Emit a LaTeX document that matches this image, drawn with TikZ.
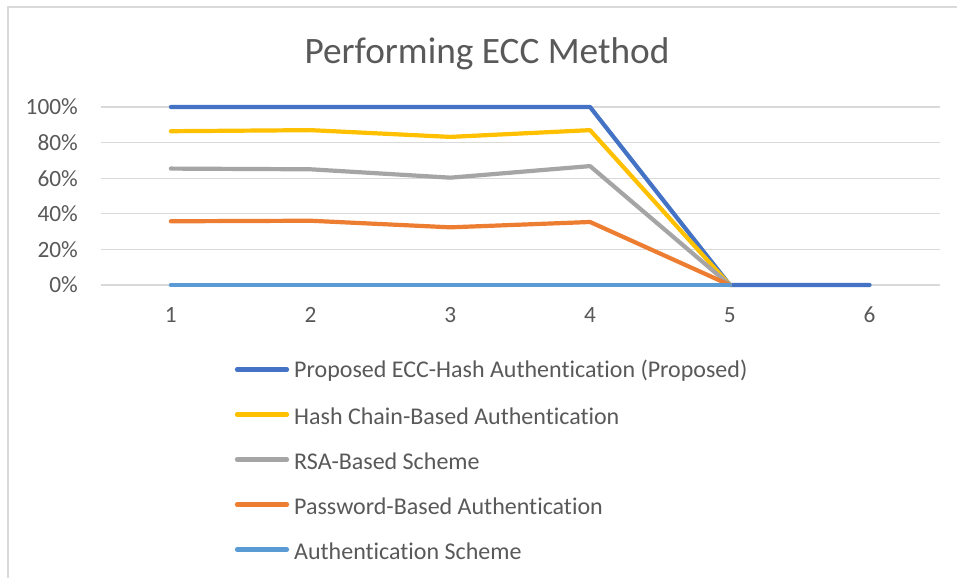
\documentclass[tikz,border=0pt]{standalone}
\usepackage{fontspec}
\setmainfont{Carlito}[Ligatures=NoCommon]
\definecolor{txt}{HTML}{595959}
\definecolor{grid}{HTML}{D9D9D9}
\definecolor{sblue}{HTML}{4472C4}
\definecolor{syellow}{HTML}{FFC000}
\definecolor{sgray}{HTML}{A5A5A5}
\definecolor{sorange}{HTML}{ED7D31}
\definecolor{slight}{HTML}{5B9BD5}
% data point: category #1, percentage #2
\newcommand\datapt[2]{({101+(#1-0.5)*139.73},{285-1.78*#2})}
\tikzset{
  series/.style={line width=4.2pt, line cap=round, line join=round},
  gridline/.style={draw=grid, line width=1.3pt},
  ticklabel/.style={text=txt, font=\fontsize{23.3}{28}\selectfont, inner sep=0pt},
  legendtext/.style={text=txt, font=\fontsize{24}{29}\selectfont, inner sep=0pt, anchor=west},
}
\begin{document}
\begin{tikzpicture}[x=1pt, y=-1pt]
  \useasboundingbox (0,0) rectangle (957,578);
  \fill[white] (0,0) rectangle (957,578);
  % chart frame (top and left edges)
  \draw[draw=grid, line width=2pt] (7.5,578) -- (7.5,7.5) -- (957,7.5);
  % title
  \node[text=txt, font=\fontsize{37.3}{45}\selectfont, inner sep=0pt] (title) at (487,54) {Performing ECC Method};
  % horizontal gridlines and value axis labels
  \foreach \v/\lab [count=\k] in {0/0\%,20/20\%,40/40\%,60/60\%,80/80\%,100/100\%} {
    \draw[gridline] (101,{285-1.78*\v}) -- (940,{285-1.78*\v});
    \node[ticklabel, anchor=east] (ylab\k) at (78,{285-1.78*\v}) {\lab};
  }
  % category axis labels
  \foreach \c in {1,...,6} {
    \node[ticklabel] (xlab\c) at ({101+(\c-0.5)*139.73},315) {\c};
  }
  % data series
  \draw[series, sblue]   \datapt{1}{100} -- \datapt{2}{100} -- \datapt{3}{100} -- \datapt{4}{100} -- \datapt{5}{0} -- \datapt{6}{0};
  \draw[series, syellow] \datapt{1}{86.4} -- \datapt{2}{87} -- \datapt{3}{83.2} -- \datapt{4}{87} -- \datapt{5}{0};
  \draw[series, sgray]   \datapt{1}{65.4} -- \datapt{2}{65} -- \datapt{3}{60.3} -- \datapt{4}{66.8} -- \datapt{5}{0};
  \draw[series, sorange] \datapt{1}{35.8} -- \datapt{2}{36.1} -- \datapt{3}{32.4} -- \datapt{4}{35.4} -- \datapt{5}{0};
  \draw[series, slight]  \datapt{1}{0} -- \datapt{2}{0} -- \datapt{3}{0} -- \datapt{4}{0} -- \datapt{5}{0};
  % legend
  \foreach \col/\name [count=\k] in {
      sblue/Proposed ECC-Hash Authentication (Proposed),
      syellow/Hash Chain-Based Authentication,
      sgray/RSA-Based Scheme,
      sorange/Password-Based Authentication,
      slight/Authentication Scheme} {
    \coordinate (key\k a) at (237,{369.5+45*(\k-1)});
    \coordinate (key\k b) at (287,{369.5+45*(\k-1)});
    \draw[series, \col] (key\k a) -- (key\k b);
    \node[legendtext] (leg\k) at (294,{371+45*(\k-1)}) {\name};
  }
\end{tikzpicture}
\end{document}
